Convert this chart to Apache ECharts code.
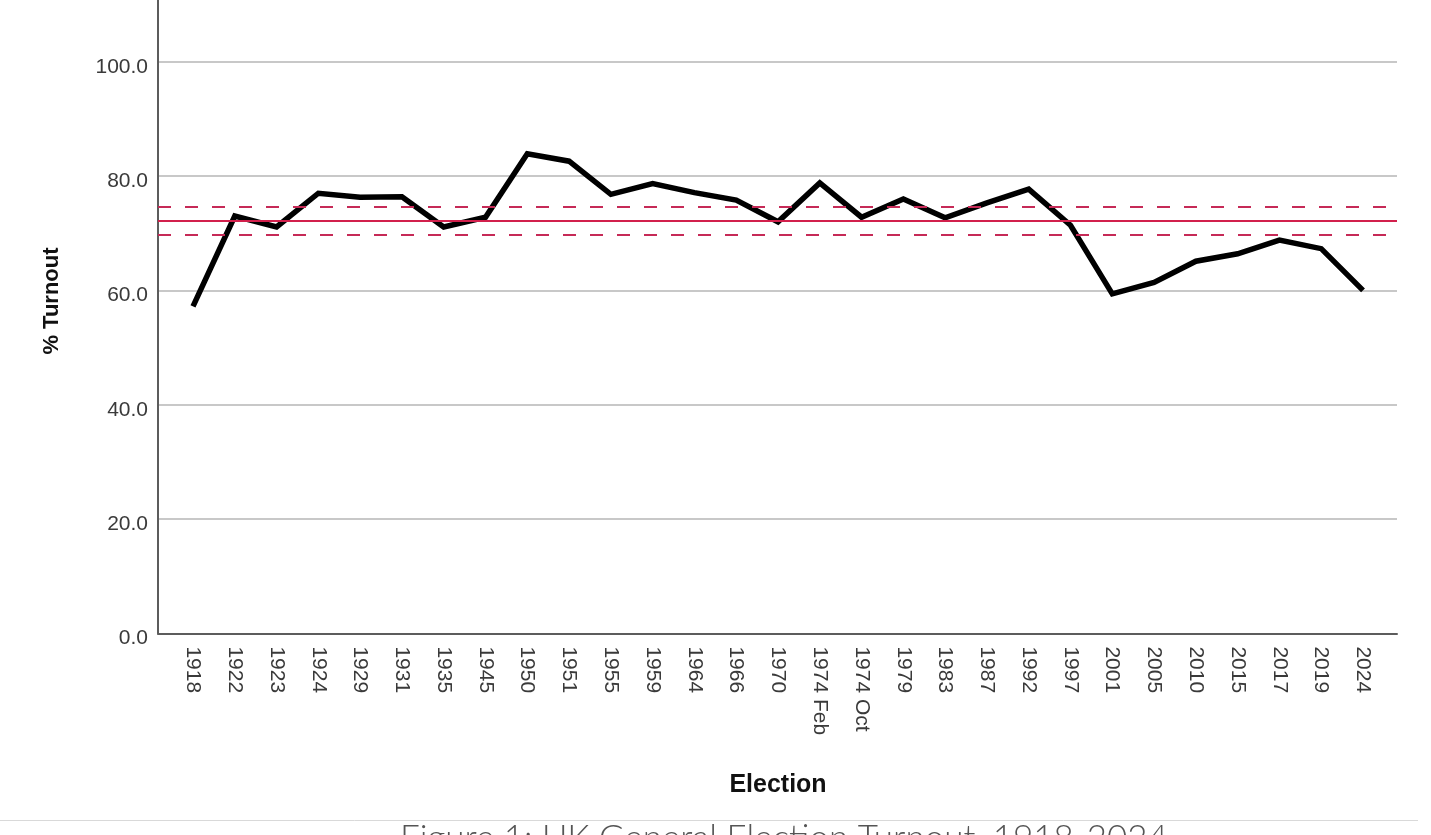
<!DOCTYPE html>
<html>
<head>
<meta charset="utf-8">
<script src="https://cdn.jsdelivr.net/npm/echarts@6/dist/echarts.min.js"></script>
<style>
  html, body { margin: 0; padding: 0; background: #fff; }
  #chart { width: 1431px; height: 835px; }
</style>
</head>
<body>
<div id="chart"></div>
<script>
// ---- data ----
const categories = ['1918','1922','1923','1924','1929','1931','1935','1945','1950','1951','1955','1959','1964','1966','1970','1974 Feb','1974 Oct','1979','1983','1987','1992','1997','2001','2005','2010','2015','2017','2019','2024'];
const turnout = [57.2,73.0,71.1,77.0,76.3,76.4,71.1,72.8,83.9,82.6,76.8,78.7,77.1,75.8,72.0,78.8,72.8,76.0,72.7,75.3,77.7,71.4,59.4,61.4,65.1,66.4,68.8,67.3,60.0];
const meanTurnout = [72.2];
const ciUpper = [74.7];
const ciLower = [69.7];
const yTickValues = [0, 20, 40, 60, 80, 100];

const yMax = 110.8;
const gridTop = 0;
const gridBottom = 201.6;
const FONT = '"Liberation Sans", Arial, sans-serif';

const chart = echarts.init(document.getElementById('chart'), null, { renderer: 'canvas' });
chart.setOption({
  animation: false,
  backgroundColor: '#ffffff',
  grid: [
    { left: 158, right: 34, top: gridTop, bottom: gridBottom },
    { left: 193, right: 68, top: gridTop, bottom: gridBottom }
  ],
  xAxis: [
    {
      gridIndex: 0, type: 'value', min: 0, max: 1,
      axisLine: { show: true, onZero: false, lineStyle: { color: '#5c5c5c', width: 2 } },
      axisTick: { show: false }, axisLabel: { show: false }, splitLine: { show: false }
    },
    {
      gridIndex: 1, type: 'category', data: categories, boundaryGap: false,
      axisLine: { show: false }, axisTick: { show: false }, splitLine: { show: false },
      axisLabel: { rotate: -90, margin: 13, fontSize: 21, color: '#3a3a3a', fontFamily: FONT, interval: 0 },
      name: 'Election', nameLocation: 'middle', nameGap: 139,
      nameTextStyle: { fontSize: 25, fontWeight: 'bold', color: '#111', fontFamily: FONT }
    }
  ],
  yAxis: [
    {
      gridIndex: 0, type: 'value', min: 0, max: yMax, interval: 20,
      axisLine: { show: true, lineStyle: { color: '#5c5c5c', width: 2 } },
      axisTick: { show: false },
      splitLine: { show: true, showMaxLine: false, lineStyle: { color: '#c8c8c8', width: 2 } },
      axisLabel: {
        margin: 10, fontSize: 21, color: '#3a3a3a', fontFamily: FONT,
        verticalAlign: 'top', lineHeight: 10, showMaxLabel: false,
        formatter: v => (yTickValues.indexOf(v) >= 0 ? v.toFixed(1) : '')
      }
    },
    {
      gridIndex: 1, type: 'value', min: 0, max: yMax, interval: 20, show: false
    }
  ],
  graphic: [
    {
      type: 'text', x: 52, y: 301, rotation: Math.PI / 2,
      style: { text: '% Turnout', fontSize: 22, fontWeight: 'bold', fill: '#111', fontFamily: FONT,
               align: 'center', verticalAlign: 'middle' }
    },
    {
      type: 'line', shape: { x1: 0, y1: 820.5, x2: 1418, y2: 820.5 },
      style: { stroke: '#d9d9d9', lineWidth: 1 }
    },
    {
      type: 'text', x: 784, y: 821,
      style: { text: 'Figure 1: UK General Election Turnout, 1918-2024', fontSize: 35, fontWeight: 300,
               fill: '#555', fontFamily: 'Lato, "Open Sans", sans-serif', align: 'center', verticalAlign: 'top' }
    }
  ],
  series: [
    {
      type: 'line', xAxisIndex: 0, yAxisIndex: 0, data: [], silent: true,
      markLine: {
        symbol: 'none', silent: true, label: { show: false },
        data: [
          { yAxis: meanTurnout[0], lineStyle: { type: 'solid', color: '#d2204c', width: 2 } },
          { yAxis: ciUpper[0], lineStyle: { type: [13, 14], color: '#c62a57', width: 2 } },
          { yAxis: ciLower[0], lineStyle: { type: [13, 14], color: '#c62a57', width: 2 } }
        ]
      }
    },
    {
      type: 'line', xAxisIndex: 1, yAxisIndex: 1, data: turnout,
      symbol: 'none', smooth: false,
      lineStyle: { color: '#000', width: 5.5, join: 'miter' }
    }
  ]
});
</script>
</body>
</html>
